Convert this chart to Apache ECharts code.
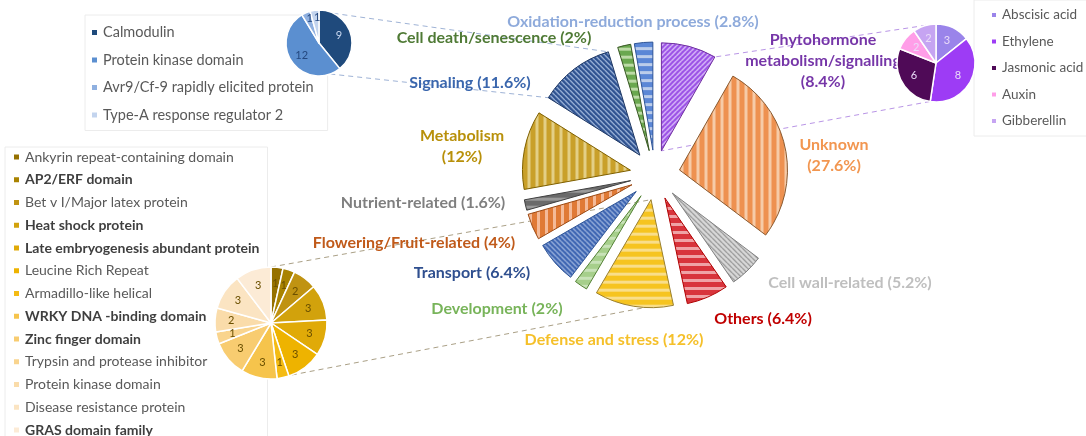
<!DOCTYPE html>
<html>
<head>
<meta charset="utf-8">
<script src="https://cdn.jsdelivr.net/npm/echarts@6/dist/echarts.min.js"></script>
<style>
html, body { margin: 0; padding: 0; background: #fff; }
#chart { width: 1086px; height: 436px; }
</style>
</head>
<body>
<div id="chart"></div>
<script>
// main categories, clockwise from 12 o'clock
const mainCats = ['Phytohormone metabolism/signalling', 'Unknown', 'Cell wall-related', 'Others',
    'Defense and stress', 'Development', 'Transport', 'Flowering/Fruit-related', 'Nutrient-related',
    'Metabolism', 'Signaling', 'Cell death/senescence', 'Oxidation-reduction process']
const mainPct = [8.4, 27.6, 5.2, 6.4, 12, 2, 6.4, 4, 1.6, 12, 11.6, 2, 2.8]
const mainLabels = ['Phytohormone\nmetabolism/signalling\n(8.4%)', 'Unknown\n(27.6%)', 'Cell wall-related (5.2%)',
    'Others (6.4%)', 'Defense and stress (12%)', 'Development (2%)', 'Transport (6.4%)',
    'Flowering/Fruit-related (4%)', 'Nutrient-related (1.6%)', 'Metabolism\n(12%)', 'Signaling (11.6%)',
    'Cell death/senescence (2%)', 'Oxidation-reduction process (2.8%)']

// Signaling breakdown
const sigNames = ['Calmodulin', 'Protein kinase domain', 'Avr9/Cf-9 rapidly elicited protein', 'Type-A response regulator 2']
const sigValues = [9, 12, 1, 1]

// Phytohormone breakdown
const hormNames = ['Abscisic acid', 'Ethylene', 'Jasmonic acid', 'Auxin', 'Gibberellin']
const hormValues = [3, 8, 6, 2, 2]

// Defense and stress breakdown
const defNames = ['Ankyrin repeat-containing domain', 'AP2/ERF domain', 'Bet v I/Major latex protein',
    'Heat shock protein', 'Late embryogenesis abundant protein', 'Leucine Rich Repeat', 'Armadillo-like helical',
    'WRKY DNA -binding domain', 'Zinc finger domain', 'Trypsin and protease inhibitor', 'Protein kinase domain ',
    'Disease resistance protein', 'GRAS domain family']
const defValues = [1, 1, 2, 3, 3, 3, 1, 3, 3, 1, 2, 3, 3]

// ---- styles ----
const FONT = 'Lato'
const C = [655, 175], R = 108, OFF = 25
const P1 = [319, 43], R1 = 33
const P2 = [936, 63], R2 = 39
const P3 = [271, 323], R3 = 56

// pattern: [type, color1, color2, border]
const mainFill = [
    ['d', '#9a4fe6', '#efe0ff', '#7030a0'],
    ['v', '#ee9150', '#f6cba8', '#8a5a30'],
    ['b', '#dadada', '#8c8c8c', '#808080'],
    ['h', '#d8343c', '#efa3a6', '#b00000'],
    ['h', '#f6c420', '#f9de8a', '#9a8030'],
    ['h', '#a6cf8b', '#c8e2b8', '#548235'],
    ['b', '#3a62b0', '#b7c9ea', '#2f5597'],
    ['v', '#e07a36', '#f4ba98', '#9c4a14'],
    ['h', '#6a6a6a', '#9a9a9a', '#404040'],
    ['v', '#c9a02a', '#e3cf86', '#7f6000'],
    ['b', '#2b4f8e', '#bcd0ee', '#1f3864'],
    ['h', '#6aa84f', '#bcdaa6', '#385723'],
    ['h', '#5b87d6', '#bccdea', '#2f5597']
]
const mainLabelColor = ['#7636a8', '#f29650', '#bfbfbf', '#c00000', '#f5c02a', '#78b45a', '#2f4f8f',
    '#c05a1a', '#7f7f7f', '#b8900a', '#3a66ad', '#4f7a35', '#8eaadb']
const mainLabelPos = [[823, 61], [834, 155], [850, 283], [763, 319], [614, 340], [497, 309], [472, 273],
    [414, 243], [423, 203], [462, 146], [470, 83], [494, 38], [633, 22]]

const sigColors = ['#1f4a7c', '#5b8fd0', '#8fb0e0', '#c3d4ee']
const sigLabelColor = ['#c9d8f0', '#24487f', '#24487f', '#24487f']
const hormColors = ['#9a84ea', '#9d3cf5', '#4f0a57', '#ff9ee8', '#c6a4f2']
const defColors = ['#957100', '#a98300', '#c09312', '#d2a20c', '#e0aa08', '#eeb300', '#f4bb14',
    '#f6c44c', '#f8cc70', '#f9d48e', '#fadcaa', '#fbe4c2', '#fcebd6']
const defBold = [false, true, false, true, true, false, false, true, true, false, false, false, true]

function makePattern(type, c1, c2) {
    const cv = document.createElement('canvas')
    const s = (type === 'v' || type === 'h') ? 8 : 5
    cv.width = s; cv.height = s
    const ctx = cv.getContext('2d')
    ctx.fillStyle = c1
    ctx.fillRect(0, 0, s, s)
    if (type === 'v') {
        ctx.fillStyle = c2; ctx.fillRect(0, 0, 3, s)
    } else if (type === 'h') {
        ctx.fillStyle = c2; ctx.fillRect(0, 0, s, 3)
    } else {
        ctx.strokeStyle = c2; ctx.lineWidth = 1.2
        ctx.beginPath()
        for (let k = -1; k <= 1; k++) {
            if (type === 'd' || type === 'x') { ctx.moveTo(k * s, s); ctx.lineTo(k * s + s, 0) }
            if (type === 'b' || type === 'x') { ctx.moveTo(k * s, 0); ctx.lineTo(k * s + s, s) }
        }
        ctx.stroke()
    }
    return { image: cv, repeat: 'repeat' }
}

// slice geometry, used for the connector lines
const total = mainPct.reduce((a, b) => a + b, 0)
function polar(c, r, deg) {
    const a = deg * Math.PI / 180
    return [c[0] + r * Math.cos(a), c[1] - r * Math.sin(a)]
}
function sliceAng(i) {
    const before = mainPct.slice(0, i).reduce((a, b) => a + b, 0)
    const s = 90 - before / total * 360
    const e = 90 - (before + mainPct[i]) / total * 360
    return { s: s, e: e, m: (s + e) / 2 }
}
function apex(i) { return polar(C, OFF, sliceAng(i).m) }
function rim(i, deg) { return polar(apex(i), R, deg) }

const connectors = [
    [polar(P1, R1, 64), rim(10, sliceAng(10).e), '#9fb3d6'],
    [polar(P1, R1, -70), rim(10, sliceAng(10).s), '#9fb3d6'],
    [polar(P2, R2, 105), rim(0, sliceAng(0).e), '#b995e6'],
    [polar(P2, R2, -99), apex(0), '#b995e6'],
    [polar(P3, R3, 90), apex(4), '#aaa086'],
    [polar(P3, R3, -68), rim(4, sliceAng(4).m + 6), '#aaa086']
]

const chart = echarts.init(document.getElementById('chart'))

const mainData = mainCats.map((n, i) => {
    const f = mainFill[i]
    const st = { color: makePattern(f[0], f[1], f[2]), borderColor: f[3], borderWidth: 1 }
    return { name: n, value: mainPct[i], selected: true, itemStyle: st, select: { itemStyle: st } }
})

const smallPie = (center, r, names, values, colors) => ({
    type: 'pie', z: 4, center: center, radius: [0, r], startAngle: 90, silent: true,
    itemStyle: { borderColor: '#fff', borderWidth: 1.5 },
    label: { show: false },
    labelLine: { show: false },
    emphasis: { disabled: true },
    data: names.map((n, i) => ({ name: n, value: values[i], itemStyle: { color: colors[i] } }))
})
// transparent ring over a small pie, only to place its value labels at a chosen radius
const valueRing = (center, r0, r, names, values, color) => ({
    type: 'pie', z: 5, center: center, radius: [r0, r], startAngle: 90, silent: true,
    itemStyle: { color: 'rgba(0,0,0,0)', borderWidth: 0 },
    label: { show: true, position: 'inside', formatter: '{c}', fontFamily: FONT, fontSize: 11, color: color },
    labelLine: { show: false },
    labelLayout: { hideOverlap: false },
    emphasis: { disabled: true },
    data: names.map((n, i) => ({ name: n, value: values[i] }))
})

const ring1 = valueRing(P1, R1 * 0.1, R1, sigNames, sigValues, '#24487f')
ring1.data.forEach((d, i) => { d.label = { color: sigLabelColor[i] } })
ring1.data[2].label.offset = [-1, -5]
ring1.data[3].label.offset = [1, -5]

const legendBase = {
    orient: 'vertical', icon: 'rect', itemWidth: 7, itemHeight: 7, selectedMode: false, z: 1,
    backgroundColor: '#fff', borderColor: '#ececec', borderWidth: 1,
    textStyle: { fontFamily: FONT, fontSize: 14, color: '#595959' }
}

const option = {
    animation: false,
    backgroundColor: '#fff',
    legend: [
        Object.assign({}, legendBase, { left: 85, top: 15, padding: [10, 14, 8, 5], itemGap: 12.5,
            textStyle: { fontFamily: FONT, fontSize: 14.5, color: '#595959' }, data: sigNames }),
        Object.assign({}, legendBase, { left: 974, top: 0, padding: [8, 4, 8, 16], itemGap: 12.5,
            itemWidth: 6, itemHeight: 6,
            textStyle: { fontFamily: FONT, fontSize: 13.5, color: '#595959' }, data: hormNames }),
        Object.assign({}, legendBase, { left: 5, top: 147, height: 320, padding: [3, 8, 3, 7], itemGap: 8.75,
            data: defNames.map((n, i) => ({ name: n,
                textStyle: defBold[i] ? { fontWeight: 'bold', color: '#3f3f3f' } : {} })) })
    ],
    graphic: {
        elements: connectors.map(c => ({
            type: 'line', z: 2, silent: true,
            shape: { x1: c[0][0], y1: c[0][1], x2: c[1][0], y2: c[1][1] },
            style: { stroke: c[2], lineWidth: 1, lineDash: [5, 4] }
        })).concat(mainLabels.map((t, i) => ({
            type: 'text', z: 3, silent: true,
            x: mainLabelPos[i][0], y: mainLabelPos[i][1],
            style: { text: t, fill: mainLabelColor[i], fontFamily: FONT, fontWeight: 'bold', fontSize: 16,
                lineHeight: 21, textAlign: 'center', textVerticalAlign: 'middle' }
        })))
    },
    series: [
        {
            type: 'pie', z: 3, center: C, radius: [0, R], startAngle: 90,
            selectedMode: 'multiple', selectedOffset: OFF, silent: true,
            label: { show: false },
            labelLine: { show: false },
            emphasis: { disabled: true },
            data: mainData
        },
        smallPie(P1, R1, sigNames, sigValues, sigColors),
        smallPie(P2, R2, hormNames, hormValues, hormColors),
        smallPie(P3, R3, defNames, defValues, defColors),
        ring1,
        valueRing(P2, R2 * 0.15, R2, hormNames, hormValues, '#eadcf8'),
        valueRing(P3, R3 * 0.32, R3, defNames, defValues, '#6b5000')
    ]
}
chart.setOption(option)
</script>
</body>
</html>
